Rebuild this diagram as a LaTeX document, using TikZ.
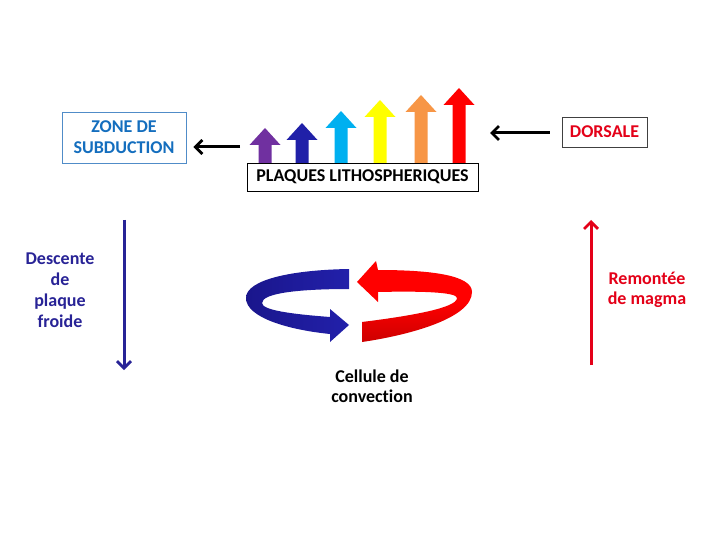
\documentclass[tikz,border=0pt]{standalone}
\usepackage{fontspec}
\setmainfont[Ligatures={NoCommon}]{Carlito}
\usetikzlibrary{arrows.meta}
\definecolor{zoneblue}{RGB}{20,110,190}
\definecolor{zoneborder}{RGB}{80,140,200}
\definecolor{dorsred}{RGB}{228,0,24}
\definecolor{descblue}{RGB}{40,35,150}
\definecolor{arrpurple}{RGB}{112,48,160}
\definecolor{arrblue}{RGB}{32,32,168}
\definecolor{arrcyan}{RGB}{0,176,240}
\definecolor{arryellow}{RGB}{255,255,0}
\definecolor{arrorange}{RGB}{247,150,70}
\definecolor{arrred}{RGB}{255,0,0}
\definecolor{ribblue}{RGB}{34,32,170}
\definecolor{ribblued}{RGB}{26,22,140}
\definecolor{ribred}{RGB}{255,0,0}
\definecolor{ribredd}{RGB}{205,0,0}
\newcommand{\uparrowshape}[3]{%
  \fill[#3] (#1-6.5,163) -- (#1-6.5,#2+17) -- (#1-15.5,#2+17) -- (#1,#2)
    -- (#1+15.5,#2+17) -- (#1+6.5,#2+17) -- (#1+6.5,163) -- cycle;}
\begin{document}
\begin{tikzpicture}[x=1pt,y=-1pt,
  lbl/.style={font=\fontsize{18}{21}\selectfont\bfseries, align=center, inner sep=0pt},
  blackarrow/.style={draw=black, line width=3pt, -{Straight Barb[length=7pt,width=14pt,line width=2.8pt]}},
  vertarrow/.style={line width=3pt, -{Straight Barb[length=7pt,width=14pt,line width=2.8pt]}}]
\useasboundingbox (0,0) rectangle (720,540);
\fill[white] (0,0) rectangle (720,540);

% boxes
\node[lbl, draw=zoneborder, line width=0.8pt, text=zoneblue, minimum width=124pt, minimum height=51pt] (zone) at (124,137.5) {ZONE DE\\SUBDUCTION};
\node[lbl, draw=black!75, line width=0.8pt, text=dorsred, minimum width=85pt, minimum height=30pt] (dorsale) at (604.5,132) {DORSALE};
\node[lbl, draw=black, line width=0.8pt, text=black, minimum width=231pt, minimum height=28pt] (plaques) at (362.5,177) {PLAQUES LITHOSPHERIQUES};

% up arrows
\uparrowshape{265}{128}{arrpurple}
\uparrowshape{302}{123}{arrblue}
\uparrowshape{341}{111}{arrcyan}
\uparrowshape{380}{100}{arryellow}
\uparrowshape{421}{95}{arrorange}
\uparrowshape{459}{88}{arrred}

% horizontal arrows
\coordinate (zs) at (240,147);
\draw[blackarrow, shorten >=7pt] (zs) -- (zs -| zone.east);
\coordinate (ds) at (490,133);
\draw[blackarrow, shorten <=12pt] (dorsale.west |- ds) -- (ds);

% vertical arrows
\coordinate (dtop) at (124,220);
\coordinate (dbot) at (124,370);
\draw[vertarrow, descblue] (dtop) -- (dbot);
\coordinate (rbot) at (591,365);
\coordinate (rtop) at (591,220);
\draw[vertarrow, dorsred] (rbot) -- (rtop);

% labels
\node[lbl, text=descblue] (descente) at (60,290) {Descente\\de\\plaque\\froide};
\node[lbl, text=dorsred, font=\fontsize{18}{20}\selectfont\bfseries] (remontee) at (647,290) {Remontée\\de magma};
\node[lbl, text=black, font=\fontsize{18}{20}\selectfont\bfseries] (cellule) at (372,386) {Cellule de\\convection};

% blue ribbon
\shade[left color=ribblued, right color=ribblue] (349,269) .. controls (290,270) and (246,280) .. (246,298)
  .. controls (246,318) and (290,330) .. (330,334)
  -- (330,342) -- (349,325) -- (330,309) -- (330,317)
  .. controls (290,314) and (262,310) .. (262,303)
  .. controls (262,293) and (300,289) .. (349,289) -- cycle;
% red ribbon
\shade[top color=ribred, bottom color=ribredd, middle color=ribred] (378,270) .. controls (430,270) and (472,275) .. (472,292)
  .. controls (472,318) and (410,335) .. (362,342)
  -- (362,322)
  .. controls (410,316) and (457,308) .. (457,298)
  .. controls (457,292) and (420,291) .. (378,292)
  -- (378,302) -- (357,282) -- (376,261) -- cycle;
\end{tikzpicture}
\end{document}
